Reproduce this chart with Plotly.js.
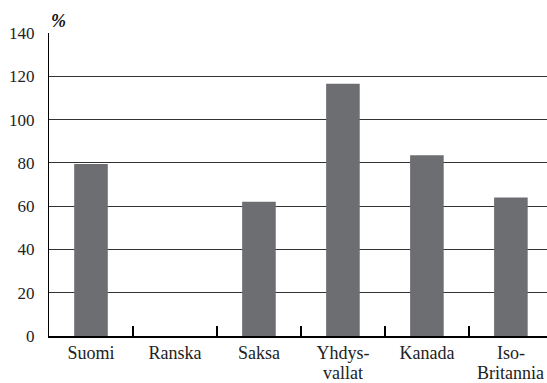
<!DOCTYPE html>
<html>
<head>
<meta charset="utf-8">
<script src="https://cdn.plot.ly/plotly-3.0.1.min.js"></script>
<style>
html,body{margin:0;padding:0;background:#fff;}
#fontwarm{position:absolute;left:2px;top:2px;z-index:0;font-family:"Liberation Serif";font-size:18px;color:#fff;}
#chart{position:relative;z-index:1;width:547px;height:383px;}
</style>
</head>
<body>
<div id="fontwarm">0 <b><i>%</i></b></div>
<div id="chart"></div>
<script>
const categories = ["Suomi", "Ranska", "Saksa", "Yhdysvallat", "Kanada", "Iso-Britannia"];
const tickLabels = ["Suomi", "Ranska", "Saksa", "Yhdys-", "Kanada", "Iso-"];
const secondLineLabels = ["", "", "", "vallat", "", "Britannia"];
const values = [79.5, null, 62, 116.5, 83.5, 64];
const yTicks = [0, 20, 40, 60, 80, 100, 120, 140];

const FONT = "Liberation Serif";

function buildLayout() {
  const annotations = [{
    text: "%",
    xref: "paper", yref: "paper", x: 0, y: 1,
    xanchor: "left", yanchor: "bottom",
    showarrow: false,
    font: {family: FONT, size: 18, color: "#111", weight: "bold", style: "italic"}
  }];
  categories.forEach((c, i) => {
    if (secondLineLabels[i]) {
      annotations.push({
        text: secondLineLabels[i],
        xref: "x", yref: "paper", x: c, y: 0,
        xanchor: "center", yanchor: "top", yshift: -25,
        showarrow: false,
        font: {family: FONT, size: 18, color: "#222"}
      });
    }
  });
  return {
    width: 547,
    height: 383,
    margin: {l: 49, r: 0, t: 33, b: 47},
    paper_bgcolor: "#ffffff",
    plot_bgcolor: "#ffffff",
    showlegend: false,
    font: {family: FONT},
    xaxis: {
      type: "category",
      range: [-0.5, 5.43],
      tickmode: "array",
      tickvals: categories,
      ticktext: tickLabels,
      ticks: "inside",
      tickson: "boundaries",
      ticklen: 10,
      tickwidth: 1.2,
      tickcolor: "#000",
      showline: true,
      linecolor: "#000",
      linewidth: 1.5,
      showgrid: false,
      zeroline: false,
      tickfont: {family: FONT, size: 18, color: "#222"}
    },
    yaxis: {
      range: [0, 140],
      tickmode: "array",
      tickvals: yTicks,
      ticks: "",
      ticklabelstandoff: 10,
      showline: true,
      linecolor: "#000",
      linewidth: 1.2,
      showgrid: true,
      gridcolor: "#333333",
      gridwidth: 1,
      zeroline: false,
      tickfont: {family: FONT, size: 17, color: "#222"}
    },
    annotations: annotations
  };
}

const traces = [{
  type: "bar",
  x: categories,
  y: values,
  width: 0.4,
  marker: {color: "#6d6e71"},
  hoverinfo: "skip"
}];

const config = {displayModeBar: false, staticPlot: true};
Plotly.newPlot("chart", traces, buildLayout(), config);

if (document.fonts && document.fonts.load) {
  Promise.all([
    document.fonts.load('18px "Liberation Serif"'),
    document.fonts.load('17px "Liberation Serif"'),
    document.fonts.load('italic bold 18px "Liberation Serif"')
  ]).then(() => Plotly.react("chart", traces, buildLayout(), config)).catch(() => {});
}
</script>
</body>
</html>
